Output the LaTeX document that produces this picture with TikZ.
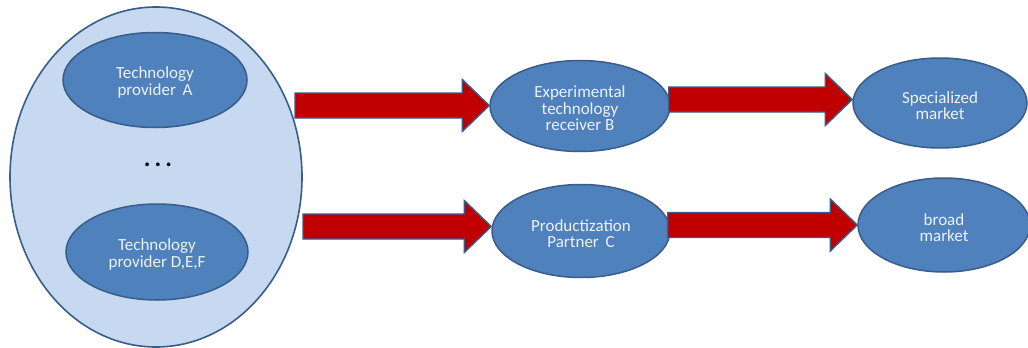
\documentclass[tikz,border=0pt]{standalone}
\usepackage{fontspec}
\setmainfont{Carlito}
\usetikzlibrary{shapes.geometric,calc}
\definecolor{outerfill}{HTML}{C6D9F1}
\definecolor{nodefill}{HTML}{4F81BD}
\definecolor{nodeline}{HTML}{385D8A}
\definecolor{arrowred}{HTML}{C00000}
\definecolor{txt}{HTML}{EEF1F6}
\newcommand\topstrut{\rule{0pt}{17pt}}
\tikzset{
  outerell/.style={ellipse, draw=nodeline, fill=outerfill, line width=1.6pt, inner sep=0pt},
  ell/.style={ellipse, draw=nodeline, fill=nodefill, line width=1.5pt, inner sep=0pt,
    text=txt, align=center, font=\fontsize{17}{16.5}\selectfont},
  barrow/.style={draw=nodeline, fill=arrowred, line width=1.4pt, line join=miter}
}
\newcommand\blockarrow[2]{%
  \draw[barrow] let \p1=(#1), \p2=(#2) in
    (\x1,\y1+12.5pt) -- (\x2-27pt,\y1+12.5pt) -- (\x2-27pt,\y1+26pt) -- (\x2,\y1)
    -- (\x2-27pt,\y1-26pt) -- (\x2-27pt,\y1-12.5pt) -- (\x1,\y1-12.5pt) -- cycle;}
\begin{document}
\begin{tikzpicture}[x=1pt,y=-1pt]
\useasboundingbox (0,0) rectangle (1028,348);
\fill[white] (0,0) rectangle (1028,348);
\begin{scope}
\clip (0,0) rectangle (1028,348);
\node[outerell, minimum width=292pt, minimum height=340pt] (outer) at (156,177) {};
\node[ell, minimum width=184pt, minimum height=95pt] (A) at (155,80) {\topstrut Technology\\provider\, A};
\node[ell, minimum width=182pt, minimum height=96pt] (D) at (157,252) {\topstrut Technology\\provider D,E,F};
\node[font=\fontsize{25}{25}\selectfont\bfseries] (dots) at (158,165) {.\,.\,.};
\node[ell, minimum width=180pt, minimum height=91pt] (B) at (580,106) {\topstrut Experimental\\technology\\receiver B};
\node[ell, minimum width=178pt, minimum height=93pt] (C) at (581,231) {\topstrut Productization\\Partner\, C};
\node[ell, minimum width=174pt, minimum height=90pt] (S) at (940,103) {\topstrut Specialized\\market};
\node[ell, minimum width=172pt, minimum height=94pt] (M) at (944,225) {\topstrut broad\\market};
\coordinate (a1s) at ($(outer.center)+(139,-71.5)$);
\coordinate (a2s) at ($(outer.center)+(147,49.5)$);
\blockarrow{a1s}{B.west}
\blockarrow{a2s}{C.west}
\coordinate (a3s) at ($(B.east)+(-2,-6.5)$);
\coordinate (a4s) at ($(C.east)+(-3,-6)$);
\blockarrow{a3s}{S.west}
\blockarrow{a4s}{M.west}
\end{scope}
\end{tikzpicture}
\end{document}
